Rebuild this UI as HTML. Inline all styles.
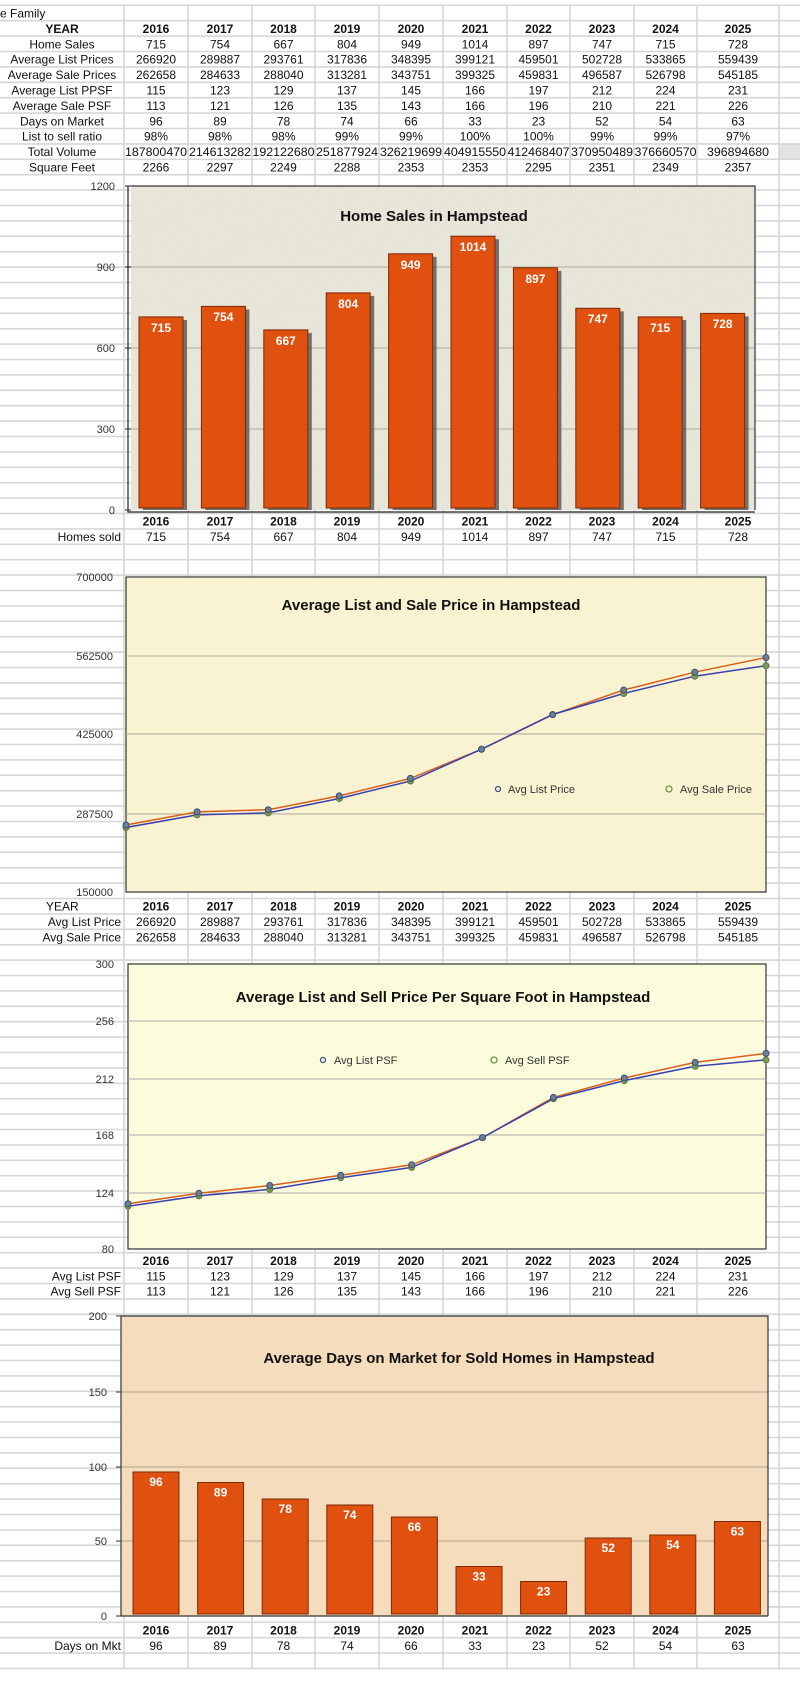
<!DOCTYPE html>
<html><head><meta charset="utf-8"><style>
html,body{margin:0;padding:0;background:#fff;width:800px;height:1688px;overflow:hidden}
svg{display:block}
text{font-family:"Liberation Sans",sans-serif}
.t{font-size:12px;fill:#111;text-anchor:middle}
.b{font-weight:bold}
.ax{font-size:11px;fill:#333;text-anchor:end}
.ttl{font-size:15px;font-weight:bold;fill:#111;text-anchor:middle}
.bl{font-size:12px;font-weight:bold;fill:#fff;text-anchor:middle}
.lg{font-size:11px;fill:#333}
.bar{fill:#e0500f;stroke:#7a2a08;stroke-width:1}
.sh{fill:#555;opacity:.8}
</style></head><body>
<svg width="800" height="1688" viewBox="0 0 800 1688" xmlns="http://www.w3.org/2000/svg">
<defs>
<filter id="tex" x="0" y="0" width="100%" height="100%">
<feTurbulence type="fractalNoise" baseFrequency="0.9" numOctaves="2" result="n"/>
<feColorMatrix type="matrix" values="0 0 0 0 0.55 0 0 0 0 0.53 0 0 0 0 0.48 0 0 0 0.18 0"/>
</filter>
</defs>
<!-- grid -->
<rect x="779" y="144" width="21" height="15" fill="#e2e2e2"/>
<g stroke="#d6d6d6" stroke-width="1.6">
<path d="M0 5.3H800M0 20.7H800M0 36.1H800M0 51.5H800M0 66.9H800M0 82.3H800M0 97.7H800M0 113.1H800M0 128.5H800M0 143.9H800M0 159.3H800M0 174.7H800M0 190.1H800M0 205.5H800M0 220.9H800M0 236.3H800M0 251.7H800M0 267.1H800M0 282.5H800M0 297.9H800M0 313.3H800M0 328.7H800M0 344.1H800M0 359.5H800M0 374.9H800M0 390.3H800M0 405.7H800M0 421.1H800M0 436.5H800M0 451.9H800M0 467.3H800M0 482.7H800M0 498.1H800M0 513.5H800M0 528.9H800M0 544.3H800M0 559.7H800M0 575.1H800M0 590.5H800M0 605.9H800M0 621.3H800M0 636.7H800M0 652.1H800M0 667.5H800M0 682.9H800M0 698.3H800M0 713.7H800M0 729.1H800M0 744.5H800M0 759.9H800M0 775.3H800M0 790.7H800M0 806.1H800M0 821.5H800M0 836.9H800M0 852.3H800M0 867.7H800M0 883.1H800M0 898.5H800M0 913.9H800M0 929.3H800M0 944.7H800M0 960.1H800M0 975.5H800M0 990.9H800M0 1006.3H800M0 1021.7H800M0 1037.1H800M0 1052.5H800M0 1067.9H800M0 1083.3H800M0 1098.7H800M0 1114.1H800M0 1129.5H800M0 1144.9H800M0 1160.3H800M0 1175.7H800M0 1191.1H800M0 1206.5H800M0 1221.9H800M0 1237.3H800M0 1252.7H800M0 1268.1H800M0 1283.5H800M0 1298.9H800M0 1314.3H800M0 1329.7H800M0 1345.1H800M0 1360.5H800M0 1375.9H800M0 1391.3H800M0 1406.7H800M0 1422.1H800M0 1437.5H800M0 1452.9H800M0 1468.3H800M0 1483.7H800M0 1499.1H800M0 1514.5H800M0 1529.9H800M0 1545.3H800M0 1560.7H800M0 1576.1H800M0 1591.5H800M0 1606.9H800M0 1622.3H800M0 1637.7H800M0 1653.1H800M0 1668.5H800"/>
<path d="M124 5V1668M188 5V1668M252 5V1668M315 5V1668M379 5V1668M443 5V1668M507 5V1668M570 5V1668M634 5V1668M697 5V1668M779 5V1668"/>
</g>

<!-- top table -->
<text x="0" y="17.5" style="font-size:12px;fill:#111">e Family</text>
<g class="t b"><text x="62" y="32.9">YEAR</text><text x="156" y="32.9">2016</text><text x="220" y="32.9">2017</text><text x="283.5" y="32.9">2018</text><text x="347" y="32.9">2019</text><text x="411" y="32.9">2020</text><text x="475" y="32.9">2021</text><text x="538.5" y="32.9">2022</text><text x="602" y="32.9">2023</text><text x="665.5" y="32.9">2024</text><text x="738" y="32.9">2025</text></g>
<g class="t">
<text x="62" y="48.3">Home Sales</text><text x="156" y="48.3">715</text><text x="220" y="48.3">754</text><text x="283.5" y="48.3">667</text><text x="347" y="48.3">804</text><text x="411" y="48.3">949</text><text x="475" y="48.3">1014</text><text x="538.5" y="48.3">897</text><text x="602" y="48.3">747</text><text x="665.5" y="48.3">715</text><text x="738" y="48.3">728</text>
<text x="62" y="63.7">Average List Prices</text><text x="156" y="63.7">266920</text><text x="220" y="63.7">289887</text><text x="283.5" y="63.7">293761</text><text x="347" y="63.7">317836</text><text x="411" y="63.7">348395</text><text x="475" y="63.7">399121</text><text x="538.5" y="63.7">459501</text><text x="602" y="63.7">502728</text><text x="665.5" y="63.7">533865</text><text x="738" y="63.7">559439</text>
<text x="62" y="79.1">Average Sale Prices</text><text x="156" y="79.1">262658</text><text x="220" y="79.1">284633</text><text x="283.5" y="79.1">288040</text><text x="347" y="79.1">313281</text><text x="411" y="79.1">343751</text><text x="475" y="79.1">399325</text><text x="538.5" y="79.1">459831</text><text x="602" y="79.1">496587</text><text x="665.5" y="79.1">526798</text><text x="738" y="79.1">545185</text>
<text x="62" y="94.5">Average List PPSF</text><text x="156" y="94.5">115</text><text x="220" y="94.5">123</text><text x="283.5" y="94.5">129</text><text x="347" y="94.5">137</text><text x="411" y="94.5">145</text><text x="475" y="94.5">166</text><text x="538.5" y="94.5">197</text><text x="602" y="94.5">212</text><text x="665.5" y="94.5">224</text><text x="738" y="94.5">231</text>
<text x="62" y="109.9">Average Sale PSF</text><text x="156" y="109.9">113</text><text x="220" y="109.9">121</text><text x="283.5" y="109.9">126</text><text x="347" y="109.9">135</text><text x="411" y="109.9">143</text><text x="475" y="109.9">166</text><text x="538.5" y="109.9">196</text><text x="602" y="109.9">210</text><text x="665.5" y="109.9">221</text><text x="738" y="109.9">226</text>
<text x="62" y="125.3">Days on Market</text><text x="156" y="125.3">96</text><text x="220" y="125.3">89</text><text x="283.5" y="125.3">78</text><text x="347" y="125.3">74</text><text x="411" y="125.3">66</text><text x="475" y="125.3">33</text><text x="538.5" y="125.3">23</text><text x="602" y="125.3">52</text><text x="665.5" y="125.3">54</text><text x="738" y="125.3">63</text>
<text x="62" y="140.7">List to sell ratio</text><text x="156" y="140.7">98%</text><text x="220" y="140.7">98%</text><text x="283.5" y="140.7">98%</text><text x="347" y="140.7">99%</text><text x="411" y="140.7">99%</text><text x="475" y="140.7">100%</text><text x="538.5" y="140.7">100%</text><text x="602" y="140.7">99%</text><text x="665.5" y="140.7">99%</text><text x="738" y="140.7">97%</text>
<text x="62" y="156.1">Total Volume</text><text x="156" y="156.1" textLength="62" lengthAdjust="spacingAndGlyphs">187800470</text><text x="220" y="156.1" textLength="62" lengthAdjust="spacingAndGlyphs">214613282</text><text x="283.5" y="156.1" textLength="62" lengthAdjust="spacingAndGlyphs">192122680</text><text x="347" y="156.1" textLength="62" lengthAdjust="spacingAndGlyphs">251877924</text><text x="411" y="156.1" textLength="62" lengthAdjust="spacingAndGlyphs">326219699</text><text x="475" y="156.1" textLength="62" lengthAdjust="spacingAndGlyphs">404915550</text><text x="538.5" y="156.1" textLength="62" lengthAdjust="spacingAndGlyphs">412468407</text><text x="602" y="156.1" textLength="62" lengthAdjust="spacingAndGlyphs">370950489</text><text x="665.5" y="156.1" textLength="62" lengthAdjust="spacingAndGlyphs">376660570</text><text x="738" y="156.1" textLength="62" lengthAdjust="spacingAndGlyphs">396894680</text>
<text x="62" y="171.5">Square Feet</text><text x="156" y="171.5">2266</text><text x="220" y="171.5">2297</text><text x="283.5" y="171.5">2249</text><text x="347" y="171.5">2288</text><text x="411" y="171.5">2353</text><text x="475" y="171.5">2353</text><text x="538.5" y="171.5">2295</text><text x="602" y="171.5">2351</text><text x="665.5" y="171.5">2349</text><text x="738" y="171.5">2357</text>
</g>

<!-- CHART 1 -->
<rect x="131" y="186" width="624" height="324" fill="#ebe8dc"/>
<rect x="131" y="186" width="624" height="324" filter="url(#tex)"/>
<g stroke="#9a968a" stroke-width="0.8"><path d="M131 267H755M131 348H755M131 429H755"/></g>
<path d="M131 186H755V510" fill="none" stroke="#333" stroke-width="1.2"/>
<path d="M128 186V512H755" fill="none" stroke="#222" stroke-width="1.2"/>
<g stroke="#222"><path d="M125 186H131M125 267H131M125 348H131M125 429H131M125 510H131"/></g>
<g class="ax"><text x="115" y="190">1200</text><text x="115" y="271">900</text><text x="115" y="352">600</text><text x="115" y="433">300</text><text x="115" y="514">0</text></g>
<text class="ttl" x="434" y="221">Home Sales in Hampstead</text>
<g class="sh"><rect x="143" y="320" width="44" height="190"/><rect x="205.4" y="309.4" width="44" height="200.6"/><rect x="267.8" y="332.9" width="44" height="177.1"/><rect x="330.2" y="295.9" width="44" height="214.1"/><rect x="392.6" y="256.8" width="44" height="253.2"/><rect x="455" y="239.2" width="44" height="270.8"/><rect x="517.4" y="270.8" width="44" height="239.2"/><rect x="579.8" y="311.3" width="44" height="198.7"/><rect x="642.2" y="320" width="44" height="190"/><rect x="704.6" y="316.4" width="44" height="193.6"/></g>
<g class="bar"><rect x="139" y="316.9" width="44" height="191"/><rect x="201.4" y="306.4" width="44" height="201.6"/><rect x="263.8" y="329.9" width="44" height="178.1"/><rect x="326.2" y="292.9" width="44" height="215.1"/><rect x="388.6" y="253.8" width="44" height="254.2"/><rect x="451" y="236.2" width="44" height="271.8"/><rect x="513.4" y="267.8" width="44" height="240.2"/><rect x="575.8" y="308.3" width="44" height="199.7"/><rect x="638.2" y="316.9" width="44" height="191.1"/><rect x="700.6" y="313.4" width="44" height="194.6"/></g>
<g class="bl"><text x="161" y="332">715</text><text x="223.4" y="321">754</text><text x="285.8" y="345">667</text><text x="348.2" y="308">804</text><text x="410.6" y="269">949</text><text x="473" y="251">1014</text><text x="535.4" y="283">897</text><text x="597.8" y="323">747</text><text x="660.2" y="332">715</text><text x="722.6" y="328">728</text></g>
<g class="t b"><text x="156" y="525.7">2016</text><text x="220" y="525.7">2017</text><text x="283.5" y="525.7">2018</text><text x="347" y="525.7">2019</text><text x="411" y="525.7">2020</text><text x="475" y="525.7">2021</text><text x="538.5" y="525.7">2022</text><text x="602" y="525.7">2023</text><text x="665.5" y="525.7">2024</text><text x="738" y="525.7">2025</text></g>
<g class="t"><text x="121" y="541.1" style="text-anchor:end">Homes sold</text><text x="156" y="541.1">715</text><text x="220" y="541.1">754</text><text x="283.5" y="541.1">667</text><text x="347" y="541.1">804</text><text x="411" y="541.1">949</text><text x="475" y="541.1">1014</text><text x="538.5" y="541.1">897</text><text x="602" y="541.1">747</text><text x="665.5" y="541.1">715</text><text x="738" y="541.1">728</text></g>

<!-- CHART 2 -->
<rect x="126" y="577" width="640" height="315" fill="#faf3d2" stroke="#333" stroke-width="1.2"/>
<g stroke="#aaa69a" stroke-width="1"><path d="M126 656H766M126 734H766M126 814H766"/></g>
<g class="ax"><text x="113" y="581">700000</text><text x="113" y="660">562500</text><text x="113" y="738">425000</text><text x="113" y="818">287500</text><text x="113" y="896">150000</text></g>
<text class="ttl" x="431" y="610">Average List and Sale Price in Hampstead</text>
<polyline fill="none" stroke="#d9601c" stroke-width="1.5" points="126,825 197.1,811.9 268.2,809.7 339.3,795.9 410.4,778.4 481.5,749.3 552.6,714.7 623.7,690 694.8,672.2 766,657.5"/>
<polyline fill="none" stroke="#3a3fb0" stroke-width="1.5" points="126,827.5 197.1,814.9 268.2,812.9 339.3,798.5 410.4,781 481.5,749.2 552.6,714.5 623.7,693.5 694.8,676.2 766,665.7"/>
<g fill="#7f9a5a" stroke="#5d7a3a"><circle cx="126" cy="827.5" r="3"/><circle cx="197.1" cy="814.9" r="3"/><circle cx="268.2" cy="812.9" r="3"/><circle cx="339.3" cy="798.5" r="3"/><circle cx="410.4" cy="781" r="3"/><circle cx="481.5" cy="749.2" r="3"/><circle cx="552.6" cy="714.5" r="3"/><circle cx="623.7" cy="693.5" r="3"/><circle cx="694.8" cy="676.2" r="3"/><circle cx="766" cy="665.7" r="3"/></g>
<g fill="#6a7f9a" stroke="#3c4f6a"><circle cx="126" cy="825" r="3"/><circle cx="197.1" cy="811.9" r="3"/><circle cx="268.2" cy="809.7" r="3"/><circle cx="339.3" cy="795.9" r="3"/><circle cx="410.4" cy="778.4" r="3"/><circle cx="481.5" cy="749.3" r="3"/><circle cx="552.6" cy="714.7" r="3"/><circle cx="623.7" cy="690" r="3"/><circle cx="694.8" cy="672.2" r="3"/><circle cx="766" cy="657.5" r="3"/></g>
<circle cx="498" cy="789" r="2.5" fill="none" stroke="#3c4f8a" stroke-width="1.3"/><text class="lg" x="508" y="793">Avg List Price</text>
<circle cx="669" cy="789" r="3" fill="none" stroke="#6a9a3a" stroke-width="1.3"/><text class="lg" x="680" y="793">Avg Sale Price</text>
<text x="46" y="910.7" style="font-size:12px;fill:#111">YEAR</text>
<g class="t b"><text x="156" y="910.7">2016</text><text x="220" y="910.7">2017</text><text x="283.5" y="910.7">2018</text><text x="347" y="910.7">2019</text><text x="411" y="910.7">2020</text><text x="475" y="910.7">2021</text><text x="538.5" y="910.7">2022</text><text x="602" y="910.7">2023</text><text x="665.5" y="910.7">2024</text><text x="738" y="910.7">2025</text></g>
<g class="t">
<text x="121" y="926.1" style="text-anchor:end">Avg List Price</text><text x="156" y="926.1">266920</text><text x="220" y="926.1">289887</text><text x="283.5" y="926.1">293761</text><text x="347" y="926.1">317836</text><text x="411" y="926.1">348395</text><text x="475" y="926.1">399121</text><text x="538.5" y="926.1">459501</text><text x="602" y="926.1">502728</text><text x="665.5" y="926.1">533865</text><text x="738" y="926.1">559439</text>
<text x="121" y="941.5" style="text-anchor:end">Avg Sale Price</text><text x="156" y="941.5">262658</text><text x="220" y="941.5">284633</text><text x="283.5" y="941.5">288040</text><text x="347" y="941.5">313281</text><text x="411" y="941.5">343751</text><text x="475" y="941.5">399325</text><text x="538.5" y="941.5">459831</text><text x="602" y="941.5">496587</text><text x="665.5" y="941.5">526798</text><text x="738" y="941.5">545185</text>
</g>

<!-- CHART 3 -->
<rect x="128" y="964" width="638" height="285" fill="#fafcdc" stroke="#333" stroke-width="1.2"/>
<g stroke="#aaa" stroke-width="1"><path d="M128 1021H766M128 1079H766M128 1135H766M128 1193H766"/></g>
<g class="ax"><text x="114" y="968">300</text><text x="114" y="1025">256</text><text x="114" y="1083">212</text><text x="114" y="1139">168</text><text x="114" y="1197">124</text><text x="114" y="1253">80</text></g>
<text class="ttl" x="443" y="1002">Average List and Sell Price Per Square Foot in Hampstead</text>
<circle cx="323" cy="1060" r="2.5" fill="none" stroke="#3c4f8a" stroke-width="1.3"/><text class="lg" x="334" y="1064">Avg List PSF</text>
<circle cx="494" cy="1060" r="3" fill="none" stroke="#6a9a3a" stroke-width="1.3"/><text class="lg" x="505" y="1064">Avg Sell PSF</text>
<polyline fill="none" stroke="#d9601c" stroke-width="1.5" points="128,1203.7 198.9,1193.3 269.8,1185.5 340.7,1175.2 411.6,1164.8 482.5,1137.6 553.4,1097.4 624.3,1078 695.2,1062.4 766,1053.4"/>
<polyline fill="none" stroke="#3a3fb0" stroke-width="1.5" points="128,1206.2 198.9,1195.9 269.8,1189.4 340.7,1177.7 411.6,1167.4 482.5,1137.6 553.4,1098.7 624.3,1080.6 695.2,1066.3 766,1059.9"/>
<g fill="#7f9a5a" stroke="#5d7a3a"><circle cx="128" cy="1206.2" r="3"/><circle cx="198.9" cy="1195.9" r="3"/><circle cx="269.8" cy="1189.4" r="3"/><circle cx="340.7" cy="1177.7" r="3"/><circle cx="411.6" cy="1167.4" r="3"/><circle cx="482.5" cy="1137.6" r="3"/><circle cx="553.4" cy="1098.7" r="3"/><circle cx="624.3" cy="1080.6" r="3"/><circle cx="695.2" cy="1066.3" r="3"/><circle cx="766" cy="1059.9" r="3"/></g>
<g fill="#6a7f9a" stroke="#3c4f6a"><circle cx="128" cy="1203.7" r="3"/><circle cx="198.9" cy="1193.3" r="3"/><circle cx="269.8" cy="1185.5" r="3"/><circle cx="340.7" cy="1175.2" r="3"/><circle cx="411.6" cy="1164.8" r="3"/><circle cx="482.5" cy="1137.6" r="3"/><circle cx="553.4" cy="1097.4" r="3"/><circle cx="624.3" cy="1078" r="3"/><circle cx="695.2" cy="1062.4" r="3"/><circle cx="766" cy="1053.4" r="3"/></g>
<g class="t b"><text x="156" y="1264.9">2016</text><text x="220" y="1264.9">2017</text><text x="283.5" y="1264.9">2018</text><text x="347" y="1264.9">2019</text><text x="411" y="1264.9">2020</text><text x="475" y="1264.9">2021</text><text x="538.5" y="1264.9">2022</text><text x="602" y="1264.9">2023</text><text x="665.5" y="1264.9">2024</text><text x="738" y="1264.9">2025</text></g>
<g class="t">
<text x="121" y="1280.3" style="text-anchor:end">Avg List PSF</text><text x="156" y="1280.3">115</text><text x="220" y="1280.3">123</text><text x="283.5" y="1280.3">129</text><text x="347" y="1280.3">137</text><text x="411" y="1280.3">145</text><text x="475" y="1280.3">166</text><text x="538.5" y="1280.3">197</text><text x="602" y="1280.3">212</text><text x="665.5" y="1280.3">224</text><text x="738" y="1280.3">231</text>
<text x="121" y="1295.7" style="text-anchor:end">Avg Sell PSF</text><text x="156" y="1295.7">113</text><text x="220" y="1295.7">121</text><text x="283.5" y="1295.7">126</text><text x="347" y="1295.7">135</text><text x="411" y="1295.7">143</text><text x="475" y="1295.7">166</text><text x="538.5" y="1295.7">196</text><text x="602" y="1295.7">210</text><text x="665.5" y="1295.7">221</text><text x="738" y="1295.7">226</text>
</g>

<!-- CHART 4 -->
<rect x="121" y="1316" width="647" height="300" fill="#f5dcbc"/>
<g stroke="#b3a48e" stroke-width="1"><path d="M121 1392H768M121 1467H768M121 1541H768"/></g>
<path d="M121 1316H768V1616" fill="none" stroke="#333" stroke-width="1.2"/>
<path d="M121 1316V1616H768" fill="none" stroke="#333" stroke-width="1.2"/>
<g stroke="#333"><path d="M116 1316H121M116 1392H121M116 1467H121M116 1541H121M116 1616H121"/></g>
<g class="ax"><text x="107" y="1320">200</text><text x="107" y="1396">150</text><text x="107" y="1471">100</text><text x="107" y="1545">50</text><text x="107" y="1620">0</text></g>
<text class="ttl" x="459" y="1363">Average Days on Market for Sold Homes in Hampstead</text>
<g class="bar"><rect x="133" y="1472" width="46" height="142"/><rect x="197.6" y="1482.5" width="46" height="131.5"/><rect x="262.2" y="1499" width="46" height="115"/><rect x="326.8" y="1505" width="46" height="109"/><rect x="391.4" y="1517" width="46" height="97"/><rect x="456" y="1566.5" width="46" height="47.5"/><rect x="520.6" y="1581.5" width="46" height="32.5"/><rect x="585.2" y="1538" width="46" height="76"/><rect x="649.8" y="1535" width="46" height="79"/><rect x="714.4" y="1521.5" width="46" height="92.5"/></g>
<g class="bl"><text x="156" y="1486">96</text><text x="220.6" y="1496.5">89</text><text x="285.2" y="1513">78</text><text x="349.8" y="1519">74</text><text x="414.4" y="1531">66</text><text x="479" y="1580.5">33</text><text x="543.6" y="1595.5">23</text><text x="608.2" y="1552">52</text><text x="672.8" y="1549">54</text><text x="737.4" y="1535.5">63</text></g>
<g class="t b"><text x="156" y="1634.5">2016</text><text x="220" y="1634.5">2017</text><text x="283.5" y="1634.5">2018</text><text x="347" y="1634.5">2019</text><text x="411" y="1634.5">2020</text><text x="475" y="1634.5">2021</text><text x="538.5" y="1634.5">2022</text><text x="602" y="1634.5">2023</text><text x="665.5" y="1634.5">2024</text><text x="738" y="1634.5">2025</text></g>
<g class="t"><text x="121" y="1649.9" style="text-anchor:end">Days on Mkt</text><text x="156" y="1649.9">96</text><text x="220" y="1649.9">89</text><text x="283.5" y="1649.9">78</text><text x="347" y="1649.9">74</text><text x="411" y="1649.9">66</text><text x="475" y="1649.9">33</text><text x="538.5" y="1649.9">23</text><text x="602" y="1649.9">52</text><text x="665.5" y="1649.9">54</text><text x="738" y="1649.9">63</text></g>
</svg>
</body></html>
